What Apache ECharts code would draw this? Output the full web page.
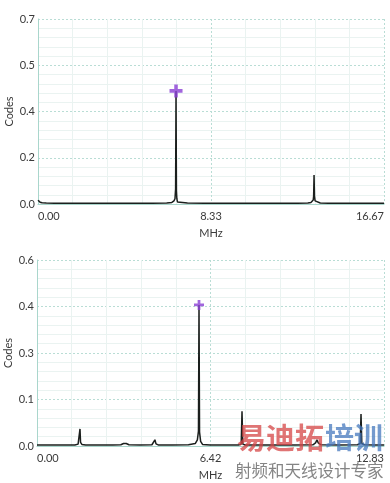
<!DOCTYPE html>
<html><head><meta charset="utf-8">
<script src="https://cdn.jsdelivr.net/npm/echarts@6/dist/echarts.min.js"></script>
<style>html,body{margin:0;padding:0;background:#fff}#c{width:390px;height:483px}</style>
</head><body><div id="c"></div>
<script>
// Top spectrum (MHz, Codes)
var topFreq = [0, 0.04, 0.1, 0.2, 0.4, 0.8, 1.5, 2.5, 3.5, 4.5, 5.5, 6.2, 6.45, 6.55, 6.6, 6.62, 6.63, 6.65, 6.67, 6.69, 6.72, 6.8, 7.2, 8.0, 9.5, 11.0, 12.5, 13.0, 13.15, 13.22, 13.26, 13.28, 13.3, 13.32, 13.35, 13.42, 13.6, 14.0, 15.0, 16.0, 16.67];
var topVal  = [0.014, 0.010, 0.007, 0.005, 0.004, 0.003, 0.003, 0.003, 0.003, 0.003, 0.003, 0.004, 0.006, 0.012, 0.02, 0.045, 0.057, 0.428, 0.05, 0.02, 0.008, 0.005, 0.004, 0.003, 0.003, 0.003, 0.003, 0.004, 0.006, 0.010, 0.015, 0.03, 0.11, 0.03, 0.012, 0.005, 0.004, 0.003, 0.003, 0.003, 0.003];
var topMarker = [6.65, 0.428];
var topYLabels = ['0.0', '0.2', '0.4', '0.5', '0.7'];
var topXLabels = ['0.00', '8.33', '16.67'];

// Bottom spectrum
var botFreq = [0, 0.3, 0.7, 1.0, 1.07, 1.14, 1.4, 1.52, 1.57, 1.59, 1.61, 1.66, 1.8, 2.3, 2.8, 3.1, 3.2, 3.25, 3.3, 3.4, 3.8, 4.25, 4.32, 4.36, 4.4, 4.5, 5.0, 5.6, 5.85, 5.93, 5.97, 5.99, 6.01, 6.05, 6.12, 6.4, 7.0, 7.45, 7.55, 7.58, 7.61, 7.7, 8.5, 9.5, 10.2, 10.3, 10.35, 10.4, 10.5, 11.2, 11.85, 11.95, 11.98, 12.01, 12.1, 12.5, 12.83];
var botVal  = [0.003, 0.003, 0.003, 0.003, 0.005, 0.003, 0.003, 0.006, 0.012, 0.055, 0.012, 0.005, 0.003, 0.003, 0.003, 0.004, 0.008, 0.012, 0.008, 0.004, 0.003, 0.004, 0.008, 0.02, 0.007, 0.003, 0.003, 0.004, 0.008, 0.02, 0.048, 0.455, 0.045, 0.015, 0.005, 0.003, 0.003, 0.003, 0.006, 0.112, 0.006, 0.003, 0.003, 0.003, 0.004, 0.01, 0.02, 0.01, 0.004, 0.003, 0.004, 0.008, 0.103, 0.008, 0.004, 0.003, 0.003];
var botMarker = [5.99, 0.455];
var botYLabels = ['0.0', '0.1', '0.3', '0.4', '0.6'];
var botXLabels = ['0.00', '6.42', '12.83'];

function pairs(f, v) { return f.map(function (x, i) { return [x, v[i]]; }); }

var FONT = 'Lato';
var TXT = '#3a3a3a';
var AXC = '#a9d6cc';
var MAJ = '#b9ddd5';
var MIN = '#eaf3f1';
var PLUS = 'path://M4,0 H7 V4 H11 V7 H7 V11 H4 V7 H0 V4 H4 Z';

function xAxisCfg(grid, max, labels) {
  return {
    gridIndex: grid, type: 'value', min: 0, max: max, interval: max / 2,
    name: 'MHz', nameLocation: 'middle', nameGap: 24,
    nameTextStyle: { color: TXT, fontSize: 11, fontFamily: FONT },
    axisLine: { show: true, lineStyle: { color: AXC, width: 1 } },
    axisTick: { show: false },
    axisLabel: { color: TXT, fontSize: 11, fontFamily: FONT, margin: 7,
      alignMinLabel: 'left', alignMaxLabel: 'right',
      formatter: function (v, i) { return labels[i] !== undefined ? labels[i] : ''; } },
    splitLine: { show: true, lineStyle: { color: MAJ, type: [2, 2], width: 1 } },
    minorTick: { show: false, splitNumber: 5 },
    minorSplitLine: { show: true, lineStyle: { color: MIN, width: 1 } }
  };
}
function yAxisCfg(grid, max, labels) {
  return {
    gridIndex: grid, type: 'value', min: 0, max: max, interval: max / 4,
    name: 'Codes', nameLocation: 'middle', nameGap: 23, nameRotate: 90, nameMoveOverlap: false,
    nameTextStyle: { color: TXT, fontSize: 11, fontFamily: FONT },
    axisLine: { show: true, lineStyle: { color: AXC, width: 1 } },
    axisTick: { show: false },
    axisLabel: { color: TXT, fontSize: 11, fontFamily: FONT, margin: 3,
      formatter: function (v, i) { return labels[i] !== undefined ? labels[i] : ''; } },
    splitLine: { show: true, lineStyle: { color: MAJ, type: [2, 2], width: 1 } },
    minorTick: { show: false, splitNumber: 5 },
    minorSplitLine: { show: true, lineStyle: { color: MIN, width: 1 } }
  };
}

var chart = echarts.init(document.getElementById('c'), null, { renderer: 'canvas' });
chart.setOption({
  animation: false,
  backgroundColor: '#fff',
  grid: [
    { left: 38, right: 6, top: 19, height: 185, outerBoundsMode: 'none', containLabel: false },
    { left: 37, right: 6, top: 260, height: 186, outerBoundsMode: 'none', containLabel: false }
  ],
  xAxis: [xAxisCfg(0, 16.67, topXLabels), xAxisCfg(1, 12.83, botXLabels)],
  yAxis: [yAxisCfg(0, 0.7, topYLabels), yAxisCfg(1, 0.6, botYLabels)],
  series: [
    { type: 'line', xAxisIndex: 0, yAxisIndex: 0, data: pairs(topFreq, topVal), showSymbol: false,
      lineStyle: { color: '#1b1f1d', width: 1.5 }, z: 3 },
    { type: 'line', xAxisIndex: 1, yAxisIndex: 1, data: pairs(botFreq, botVal), showSymbol: false,
      lineStyle: { color: '#1b1f1d', width: 1.5 }, z: 3 },
    { type: 'scatter', xAxisIndex: 0, yAxisIndex: 0, data: [topMarker], symbol: PLUS, symbolSize: 13,
      itemStyle: { color: '#8a3fd4' }, z: 5 },
    { type: 'scatter', xAxisIndex: 1, yAxisIndex: 1, data: [botMarker], symbol: PLUS, symbolSize: 10,
      itemStyle: { color: '#8a3fd4' }, z: 5 }
  ],
  graphic: [
    { type: 'text', left: 237, top: 423, z: 10, silent: true,
      style: { text: '易迪拓', fontSize: 29, fontWeight: 'bold', fontFamily: 'Noto Sans CJK SC', fill: 'rgba(214,70,70,0.75)' } },
    { type: 'text', left: 325, top: 423, z: 10, silent: true,
      style: { text: '培训', fontSize: 29, fontWeight: 'bold', fontFamily: 'Noto Sans CJK SC', fill: 'rgba(70,120,190,0.75)' } },
    { type: 'text', left: 235, top: 462, z: 10, silent: true,
      style: { text: '射频和天线设计专家', fontSize: 16.5, fontFamily: 'Noto Sans CJK SC', fill: 'rgba(110,110,110,0.85)' } }
  ]
});
</script>
</body></html>
